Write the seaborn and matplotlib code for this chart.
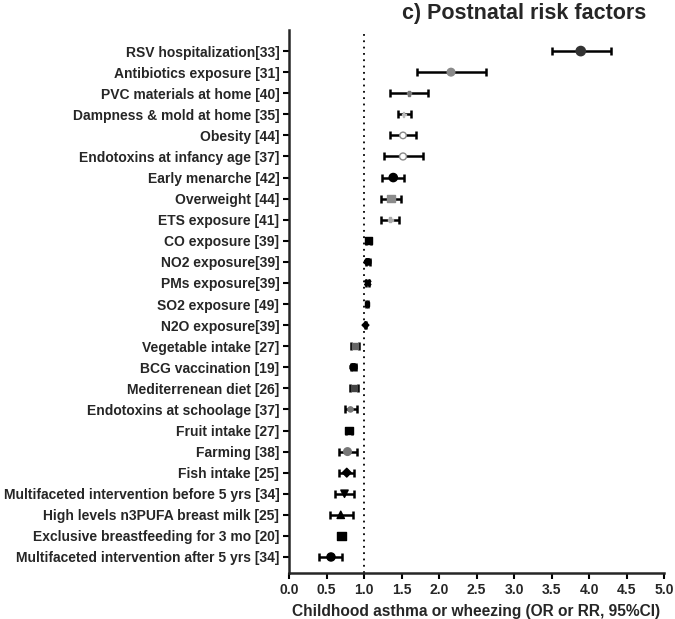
import matplotlib
matplotlib.use("Agg")
import matplotlib.pyplot as plt
import numpy as np
import pandas as pd
import seaborn as sns

# ---------- Data ---------- #
factors = [
    "RSV hospitalization[33]",
    "Antibiotics exposure [31]",
    "PVC materials at home [40]",
    "Dampness & mold at home [35]",
    "Obesity [44]",
    "Endotoxins at infancy age [37]",
    "Early menarche [42]",
    "Overweight [44]",
    "ETS exposure [41]",
    "CO exposure [39]",
    "NO2 exposure[39]",
    "PMs exposure[39]",
    "SO2 exposure [49]",
    "N2O exposure[39]",
    "Vegetable intake [27]",
    "BCG vaccination [19]",
    "Mediterrenean diet [26]",
    "Endotoxins at schoolage [37]",
    "Fruit intake [27]",
    "Farming [38]",
    "Fish intake [25]",
    "Multifaceted intervention before 5 yrs [34]",
    "High levels n3PUFA breast milk [25]",
    "Exclusive breastfeeding for 3 mo [20]",
    "Multifaceted intervention after 5 yrs [34]",
]
estimate = [3.89, 2.16, 1.60, 1.53, 1.52, 1.52, 1.39, 1.36, 1.35, 1.06, 1.05, 1.05,
            1.04, 1.02, 0.88, 0.86, 0.87, 0.82, 0.80, 0.78, 0.77, 0.74, 0.69, 0.70, 0.56]
ci_low = [3.51, 1.70, 1.34, 1.45, 1.34, 1.27, 1.24, 1.23, 1.22, 1.03, 1.02, 1.03,
          1.03, 1.01, 0.82, 0.83, 0.81, 0.74, 0.76, 0.67, 0.67, 0.61, 0.54, 0.66, 0.40]
ci_high = [4.29, 2.62, 1.85, 1.62, 1.69, 1.78, 1.53, 1.49, 1.47, 1.09, 1.08, 1.07,
           1.05, 1.03, 0.93, 0.89, 0.92, 0.91, 0.84, 0.90, 0.87, 0.86, 0.85, 0.74, 0.71]

# Marker style per factor (GraphPad-like mixed symbols)
markers = ["o", "o", "P", "P", "o", "o", "o", "s", "P", "s", "8", "X", "s", "D",
           "s", "8", "s", "o", "s", "o", "D", "v", "^", "s", "o"]
face_colors = ["#333333", "#8a8a8a", "#777777", "#bbbbbb", "white", "white", "black",
               "#8c8c8c", "#aaaaaa", "black", "black", "black", "black", "black",
               "#666666", "black", "#444444", "#777777", "black", "#777777", "black",
               "black", "black", "black", "black"]
edge_colors = ["#333333", "#8a8a8a", "#777777", "#bbbbbb", "#8a8a8a", "#8a8a8a", "black",
               "#8c8c8c", "#aaaaaa", "black", "black", "black", "black", "black",
               "#666666", "black", "#444444", "#777777", "black", "#777777", "black",
               "black", "black", "black", "black"]
marker_sizes = [45, 30, 12, 10, 22, 25, 35, 28, 12, 26, 24, 20, 12, 12,
                18, 30, 20, 14, 30, 30, 20, 28, 28, 36, 34]

df = pd.DataFrame({
    "factor": factors,
    "estimate": estimate,
    "lo": ci_low,
    "hi": ci_high,
})
df["pos"] = np.arange(len(df))

# ---------- Plot ---------- #
sns.set_style("ticks")
plt.rcParams["font.family"] = ["Liberation Sans", "DejaVu Sans"]
plt.rcParams["font.weight"] = "bold"

fig = plt.figure(figsize=(6.75, 6.19), dpi=100)
ax = fig.add_axes([289 / 675, 1 - 573 / 619, (664 - 289) / 675, (573 - 30) / 619])

# Reference line at 1
ax.axvline(1.0, color="black", linestyle=(0, (1, 2.5)), linewidth=1.3, zorder=1)

# Confidence intervals
ax.errorbar(
    df["estimate"], df["pos"],
    xerr=[df["estimate"] - df["lo"], df["hi"] - df["estimate"]],
    fmt="none", ecolor="black", elinewidth=1.8, capsize=2.7, capthick=1.8, zorder=2,
)

# Point estimates
sns.scatterplot(
    data=df, x="estimate", y="pos", hue="factor", style="factor", size="factor",
    palette=dict(zip(factors, face_colors)),
    markers=dict(zip(factors, markers)),
    sizes=dict(zip(factors, marker_sizes)),
    linewidth=1.0, legend=False, ax=ax, zorder=3,
)
ax.collections[-1].set_edgecolors(edge_colors)

ax.set_xlim(0, 5)
ax.set_ylim(24.76, -1.0)
ax.set_xticks(np.arange(0, 5.01, 0.5))
ax.set_xticklabels([f"{v:.1f}" for v in np.arange(0, 5.01, 0.5)],
                   fontsize=10, fontweight="bold")
ax.set_yticks(df["pos"])
ax.set_yticklabels(df["factor"], fontsize=10, fontweight="bold")
ax.tick_params(axis="both", width=1.5, length=4, color="black", pad=3)
ax.set_xlabel("Childhood asthma or wheezing (OR or RR, 95%CI)",
              fontsize=11.2, fontweight="bold", labelpad=5)
ax.set_ylabel("")
sns.despine(ax=ax)
for side in ("left", "bottom"):
    ax.spines[side].set_linewidth(1.8)

fig.text(524 / 675, 1 - 13 / 619, "c) Postnatal risk factors",
         ha="center", va="center", fontsize=15.5, fontweight="bold")

fig.savefig("out.png", dpi=100)
